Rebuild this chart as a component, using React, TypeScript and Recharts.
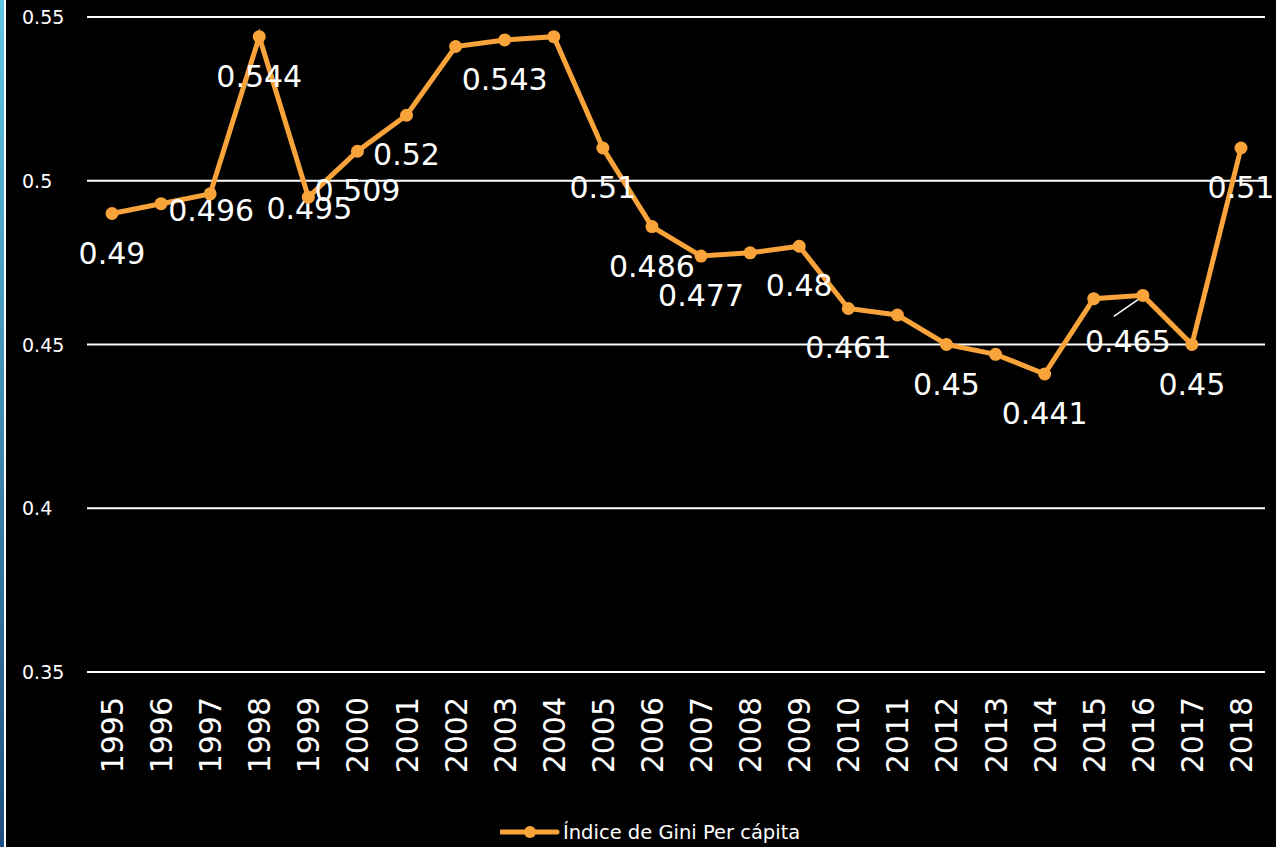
import { LineChart, Line, XAxis, YAxis, CartesianGrid, Legend } from 'recharts';

const years = ['1995', '1996', '1997', '1998', '1999', '2000', '2001', '2002', '2003', '2004', '2005', '2006', '2007', '2008', '2009', '2010', '2011', '2012', '2013', '2014', '2015', '2016', '2017', '2018'];
const gini = [0.49, 0.493, 0.496, 0.544, 0.495, 0.509, 0.52, 0.541, 0.543, 0.544, 0.51, 0.486, 0.477, 0.478, 0.48, 0.461, 0.459, 0.45, 0.447, 0.441, 0.464, 0.465, 0.45, 0.51];
const shownLabels = ['0.49', null, '0.496', '0.544', '0.495', '0.509', '0.52', null, '0.543', null, '0.51', '0.486', '0.477', null, '0.48', '0.461', null, '0.45', null, '0.441', null, '0.465', '0.45', '0.51'];
const yTicks = [0.35, 0.4, 0.45, 0.5, 0.55];
const seriesName = 'Índice de Gini Per cápita';

const data = years.map((year, i) => ({ year, gini: gini[i], label: shownLabels[i] }));

const ORANGE = '#F9A33B';
const FONT = '"DejaVu Sans", sans-serif';

// a few labels sit closer to their point, or are pulled aside with a leader line
const labelNudge: Record<string, [number, number]> = {
  '1997': [1, -23],
  '1999': [1, -28],
  '2016': [-15, 7],
};

function ValueLabel(props: any) {
  const { cx, cy, payload } = props;
  if (!payload || !payload.label || cx == null) return <g />;
  const [dx, dy] = labelNudge[payload.year] || [0, 0];
  const x = cx + dx;
  const y = cy + 39 + dy;
  return (
    <g>
      {payload.year === '2016' && (
        <line x1={cx - 29} y1={cy + 21} x2={cx - 3} y2={cy + 3} stroke="#fff" strokeWidth={1.5} />
      )}
      <text x={x} y={y} dy={11} textAnchor="middle" fill="#fff" fontSize={30} fontFamily={FONT}>
        {payload.label}
      </text>
    </g>
  );
}

function YearTick(props: any) {
  const { x, y, payload } = props;
  return (
    <g transform={`translate(${x},${y})`}>
      <text transform="rotate(-90)" x={-17} y={0} dy={11} textAnchor="end" fill="#fff" fontSize={30} fontFamily={FONT}>
        {payload.value}
      </text>
    </g>
  );
}

function GiniTick(props: any) {
  const { y, payload } = props;
  return (
    <text x={22} y={y} dy={7} textAnchor="start" fill="#fff" fontSize={19} fontFamily={FONT}>
      {String(payload.value)}
    </text>
  );
}

function LegendBox() {
  return (
    <div style={{ display: 'flex', alignItems: 'center', height: 30, fontFamily: FONT, fontSize: 19.5, color: '#fff' }}>
      <svg width={60} height={16} style={{ marginRight: 3 }}>
        <line x1={1} y1={8} x2={57} y2={8} stroke={ORANGE} strokeWidth={5} strokeLinecap="round" />
        <circle cx={30} cy={8} r={6} fill={ORANGE} />
      </svg>
      <span>{seriesName}</span>
    </div>
  );
}

export default function App() {
  return (
    <div style={{ position: 'absolute', top: 0, left: 0, width: 1276, height: 847, background: '#000', overflow: 'hidden' }}>
      <div style={{ position: 'absolute', top: 0, left: 0, width: 4, height: 847, background: 'linear-gradient(#5ec6e0, #1f4e80)' }} />
      <div style={{ position: 'absolute', top: 0, left: 4, width: 2, height: 847, background: '#fff' }} />
      <LineChart width={1276} height={847} data={data} margin={{ top: 17, right: 11, left: 0, bottom: 3 }}>
        <CartesianGrid vertical={false} stroke="#fff" strokeWidth={2} />
        <XAxis dataKey="year" axisLine={false} tickLine={false} interval={0} height={142} padding={{ left: 25, right: 24 }} tick={<YearTick />} />
        <YAxis domain={[0.35, 0.55]} ticks={yTicks} axisLine={false} tickLine={false} width={87} tick={<GiniTick />} />
        <Legend verticalAlign="bottom" content={<LegendBox />} wrapperStyle={{ left: 500, width: 330, bottom: 0 }} />
        <Line dataKey="gini" stroke="none" legendType="none" dot={<ValueLabel />} activeDot={false} isAnimationActive={false} />
        <Line
          dataKey="gini"
          name={seriesName}
          stroke={ORANGE}
          strokeWidth={5}
          dot={{ r: 6.5, fill: ORANGE, stroke: ORANGE, strokeWidth: 0 }}
          activeDot={false}
          isAnimationActive={false}
        />
      </LineChart>
    </div>
  );
}
